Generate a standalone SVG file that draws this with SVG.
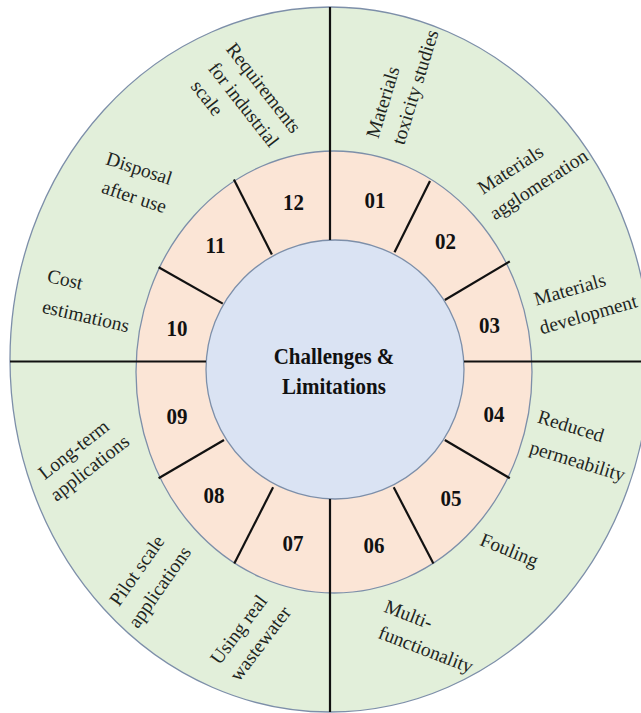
<svg xmlns="http://www.w3.org/2000/svg" width="641" height="713" viewBox="0 0 641 713">
  <style>
    .ring { stroke: #7d8fa9; stroke-width: 1.3; }
    .sep { stroke: #111; stroke-width: 2.2; fill: none; }
    .num { font-family: "Liberation Serif", "Times New Roman", serif; font-weight: bold; font-size: 21px; text-anchor: middle; fill: #111; }
    .title { font-family: "Liberation Serif", "Times New Roman", serif; font-weight: bold; font-size: 21px; text-anchor: middle; fill: #111; }
    .lbl { font-family: "Liberation Serif", "Times New Roman", serif; font-size: 19.5px; text-anchor: middle; fill: #1f261f; }
  </style>
  <rect width="641" height="713" fill="#ffffff"/>
  <g id="rings">
    <ellipse class="ring" cx="330" cy="359.5" rx="320" ry="352.5" fill="#e2efda"/>
    <ellipse class="ring" cx="334" cy="372" rx="198" ry="221" fill="#fbe5d6"/>
  </g>
  <g id="center">
    <ellipse class="ring" cx="335" cy="369.5" rx="129" ry="129.5" fill="#dae3f3"/>
    <text class="title" transform="translate(334,364) scale(1,1.1)">Challenges &amp;</text>
    <text class="title" transform="translate(334,394) scale(1,1.1)">Limitations</text>
  </g>
  <g id="connectors">
    <line class="sep" x1="330" y1="7" x2="330" y2="240"/>
    <line class="sep" x1="330" y1="499" x2="330" y2="712"/>
    <line class="sep" x1="10" y1="361.5" x2="206" y2="361.5"/>
    <line class="sep" x1="464" y1="361.5" x2="641" y2="361.5"/>
    <line class="sep" x1="271.9" y1="254.5" x2="233.9" y2="179.5"/>
    <line class="sep" x1="394.5" y1="252.3" x2="430" y2="181"/>
    <line class="sep" x1="444.8" y1="300" x2="509.8" y2="261.4"/>
    <line class="sep" x1="444.8" y1="440" x2="509.8" y2="478.2"/>
    <line class="sep" x1="393.7" y1="487.3" x2="433.4" y2="563.6"/>
    <line class="sep" x1="273.1" y1="487.3" x2="234.3" y2="563.6"/>
    <line class="sep" x1="224" y1="440" x2="158.6" y2="478.2"/>
    <line class="sep" x1="222.8" y1="303.6" x2="158.6" y2="267.3"/>
  </g>
  <g id="seg01">
    <text class="num" transform="translate(375,207.6) scale(1,1.1)">01</text>
    <text class="lbl" transform="translate(389,104) rotate(-73)">Materials</text>
    <text class="lbl" transform="translate(421.3,89) rotate(-73)">toxicity studies</text>
  </g>
  <g id="seg02">
    <text class="num" transform="translate(445.6,248.6) scale(1,1.1)">02</text>
    <text class="lbl" transform="translate(513.9,174.9) rotate(-33)">Materials</text>
    <text class="lbl" transform="translate(542.2,189.9) rotate(-33)">agglomeration</text>
  </g>
  <g id="seg03">
    <text class="num" transform="translate(489.4,332.6) scale(1,1.1)">03</text>
    <text class="lbl" transform="translate(571.6,295.6) rotate(-16)">Materials</text>
    <text class="lbl" transform="translate(590,320.6) rotate(-16)">development</text>
  </g>
  <g id="seg04">
    <text class="num" transform="translate(494,422) scale(1,1.1)">04</text>
    <text class="lbl" transform="translate(569,432.3) rotate(17)">Reduced</text>
    <text class="lbl" transform="translate(575.6,467.3) rotate(17)">permeability</text>
  </g>
  <g id="seg05">
    <text class="num" transform="translate(451,506) scale(1,1.1)">05</text>
    <text class="lbl" transform="translate(507,556) rotate(22)">Fouling</text>
  </g>
  <g id="seg06">
    <text class="num" transform="translate(374,553) scale(1,1.1)">06</text>
    <text class="lbl" transform="translate(406.2,620.5) rotate(21)">Multi-</text>
    <text class="lbl" transform="translate(423.6,655.5) rotate(21)">functionality</text>
  </g>
  <g id="seg07">
    <text class="num" transform="translate(293,550.5) scale(1,1.1)">07</text>
    <text class="lbl" transform="translate(243.7,633.5) rotate(-53)">Using real</text>
    <text class="lbl" transform="translate(265.4,647.5) rotate(-53)">wastewater</text>
  </g>
  <g id="seg08">
    <text class="num" transform="translate(214,503) scale(1,1.1)">08</text>
    <text class="lbl" transform="translate(142.1,574.1) rotate(-55)">Pilot scale</text>
    <text class="lbl" transform="translate(164.8,590.7) rotate(-55)">applications</text>
  </g>
  <g id="seg09">
    <text class="num" transform="translate(177,423.5) scale(1,1.1)">09</text>
    <text class="lbl" transform="translate(77.6,454.6) rotate(-38)">Long-term</text>
    <text class="lbl" transform="translate(93.6,472.9) rotate(-38)">applications</text>
  </g>
  <g id="seg10">
    <text class="num" transform="translate(177,335.5) scale(1,1.1)">10</text>
    <text class="lbl" transform="translate(63.7,285.7) rotate(13)">Cost</text>
    <text class="lbl" transform="translate(84.4,322.4) rotate(13)">estimations</text>
  </g>
  <g id="seg11">
    <text class="num" transform="translate(215.5,253) scale(1,1.1)">11</text>
    <text class="lbl" transform="translate(137.2,174.6) rotate(18)">Disposal</text>
    <text class="lbl" transform="translate(132.2,202.9) rotate(18)">after use</text>
  </g>
  <g id="seg12">
    <text class="num" transform="translate(293.5,209.5) scale(1,1.1)">12</text>
    <text class="lbl" transform="translate(258.7,91.9) rotate(52)">Requirements</text>
    <text class="lbl" transform="translate(238.7,108.6) rotate(52)">for industrial</text>
    <text class="lbl" transform="translate(202.1,101.9) rotate(52)">scale</text>
  </g>
</svg>
